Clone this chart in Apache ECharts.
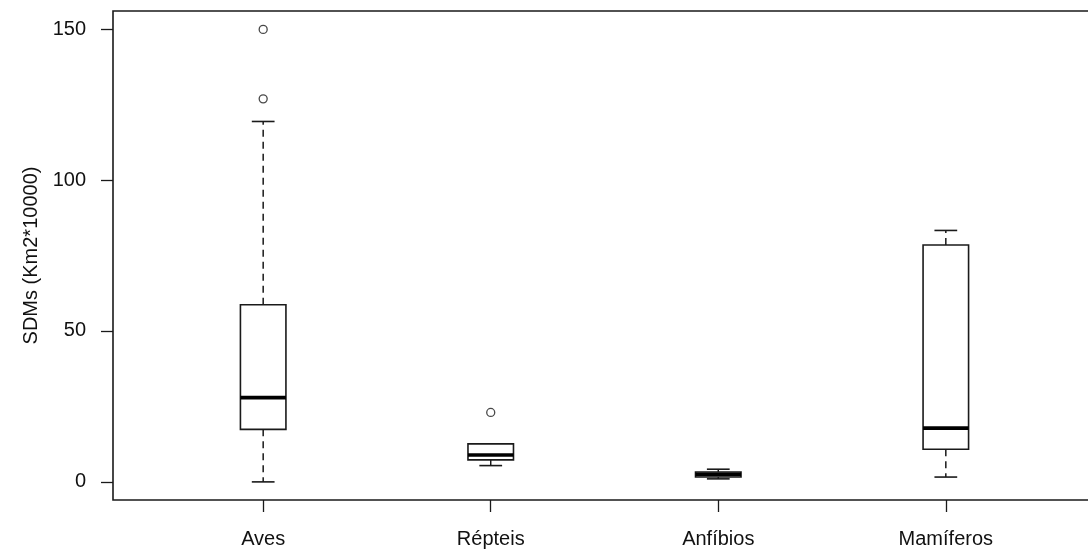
<!DOCTYPE html>
<html>
<head>
<meta charset="utf-8">
<script src="https://cdn.jsdelivr.net/npm/echarts@6/dist/echarts.min.js"></script>
<style>
html,body{margin:0;padding:0;background:#fff;}
#chart{width:1088px;height:554px;}
</style>
</head>
<body>
<div id="chart"></div>
<script>
// ---- data ----
var categories = ['Aves', 'Répteis', 'Anfíbios', 'Mamíferos'];
var lowerWhisker = [0.0, 5.4, 1.0, 1.6];
var q1Values = [17.4, 7.3, 1.6, 10.8];
var medianValues = [27.9, 8.9, 2.5, 17.8];
var q3Values = [58.7, 12.6, 3.3, 78.5];
var upperWhisker = [119.4, 12.6, 4.2, 83.3];
var outlierCategory = [1, 1, 2];
var outlierValues = [149.9, 126.9, 23.0];
var yTicks = [0, 50, 100, 150];
var yLabel = 'SDMs (Km2*10000)';

var boxData = categories.map(function (c, i) {
  return [i + 1, lowerWhisker[i], q1Values[i], medianValues[i], q3Values[i], upperWhisker[i]];
});
var outlierData = outlierValues.map(function (v, i) { return [outlierCategory[i], v]; });

var LINE = '#1a1a1a';
var BOX_HALF = 0.1;
var CAP_HALF = 0.05;

function renderBox(params, api) {
  var x = api.value(0);
  var lo = api.coord([x, api.value(1)]);
  var q1 = api.coord([x, api.value(2)]);
  var med = api.coord([x, api.value(3)]);
  var q3 = api.coord([x, api.value(4)]);
  var hi = api.coord([x, api.value(5)]);
  var left = api.coord([x - BOX_HALF, 0])[0];
  var right = api.coord([x + BOX_HALF, 0])[0];
  var cl = api.coord([x - CAP_HALF, 0])[0];
  var cr = api.coord([x + CAP_HALF, 0])[0];
  var cx = lo[0];
  var dashed = { stroke: LINE, lineWidth: 1.5, lineDash: [7, 5], fill: null };
  var solid = { stroke: LINE, lineWidth: 1.6, fill: null };
  return {
    type: 'group',
    children: [
      { type: 'line', shape: { x1: cx, y1: q3[1], x2: cx, y2: hi[1] }, style: dashed },
      { type: 'line', shape: { x1: cx, y1: q1[1], x2: cx, y2: lo[1] }, style: dashed },
      { type: 'line', shape: { x1: cl, y1: hi[1], x2: cr, y2: hi[1] }, style: solid },
      { type: 'line', shape: { x1: cl, y1: lo[1], x2: cr, y2: lo[1] }, style: solid },
      { type: 'rect', shape: { x: left, y: q3[1], width: right - left, height: q1[1] - q3[1] },
        style: { stroke: LINE, lineWidth: 1.6, fill: '#fff' } },
      { type: 'line', shape: { x1: left, y1: med[1], x2: right, y2: med[1] },
        style: { stroke: '#000', lineWidth: 3.6 } }
    ]
  };
}

var chart = echarts.init(document.getElementById('chart'), null, { renderer: 'canvas' });
var FONT = '"Liberation Sans", Arial, sans-serif';
chart.setOption({
  animation: false,
  backgroundColor: '#fff',
  grid: {
    left: 113, top: 11, width: 983, bottom: 54,
    containLabel: false, outerBoundsMode: 'none',
    show: true, borderColor: LINE, borderWidth: 1.6, backgroundColor: 'transparent'
  },
  xAxis: {
    type: 'value', min: 0.34, max: 4.66,
    axisLine: { show: false, onZero: false },
    splitLine: { show: false },
    axisTick: { show: true, length: 12, customValues: [1, 2, 3, 4], lineStyle: { color: LINE, width: 1.3 } },
    axisLabel: {
      customValues: [1, 2, 3, 4], margin: 29,
      fontSize: 20, color: '#111', fontFamily: FONT,
      formatter: function (v) { return categories[Math.round(v) - 1] || ''; }
    }
  },
  yAxis: {
    type: 'value', min: -6, max: 156,
    name: yLabel, nameLocation: 'middle', nameGap: 72, nameRotate: 90,
    nameTextStyle: { fontSize: 20, color: '#111', fontFamily: FONT },
    axisLine: { show: false, onZero: false },
    splitLine: { show: false },
    axisTick: { show: true, length: 12, customValues: yTicks, lineStyle: { color: LINE, width: 1.3 } },
    axisLabel: {
      customValues: yTicks, margin: 27,
      fontSize: 20, color: '#111', fontFamily: FONT
    }
  },
  series: [
    { type: 'custom', renderItem: renderBox, data: boxData, encode: { x: 0, y: [1, 2, 3, 4, 5] } },
    {
      type: 'scatter', data: outlierData, symbol: 'circle', symbolSize: 8,
      itemStyle: { color: '#fff', borderColor: LINE, borderWidth: 1.3 }
    }
  ]
});
</script>
</body>
</html>
